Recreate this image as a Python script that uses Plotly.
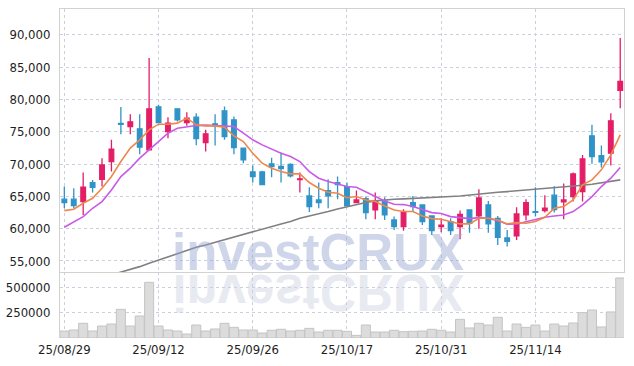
import base64
import plotly.graph_objects as go

dates = ["25/08/29", "25/09/01", "25/09/02", "25/09/03", "25/09/04", "25/09/05", "25/09/08", "25/09/09", "25/09/10", "25/09/11",
         "25/09/12", "25/09/15", "25/09/16", "25/09/17", "25/09/18", "25/09/19", "25/09/22", "25/09/23", "25/09/24", "25/09/25",
         "25/09/26", "25/09/29", "25/09/30", "25/10/01", "25/10/02", "25/10/10", "25/10/13", "25/10/14", "25/10/15", "25/10/16",
         "25/10/17", "25/10/20", "25/10/21", "25/10/22", "25/10/23", "25/10/24", "25/10/27", "25/10/28", "25/10/29", "25/10/30",
         "25/10/31", "25/11/03", "25/11/04", "25/11/05", "25/11/06", "25/11/07", "25/11/10", "25/11/11", "25/11/12", "25/11/13",
         "25/11/14", "25/11/17", "25/11/18", "25/11/19", "25/11/20", "25/11/21", "25/11/24", "25/11/25", "25/11/26", "25/11/27"]

open_ = [64550, 64550, 64190, 67130, 67640, 70380, 76300, 75800, 75440, 72190,
         78850, 75030, 78540, 76420, 77250, 73320, 76220, 78230, 76830, 72450,
         68780, 68780, 70020, 69610, 69920, 67600, 65060, 64440, 65890, 67130,
         66510, 64030, 64650, 62890, 64240, 61350, 60310, 64030, 63670, 61960,
         60310, 61090, 60310, 62890, 61960, 63670, 61600, 58560, 58870, 62120,
         62640, 62790, 65170, 64130, 64960, 65730, 74360, 71310, 71670, 81380]
high = [66500, 66250, 68680, 67540, 70900, 73740, 78800, 77710, 77710, 86390,
        79160, 77250, 78640, 78020, 77870, 75290, 77710, 78900, 77350, 72500,
        69760, 68940, 70950, 71780, 70120, 68680, 66410, 67130, 67640, 68060,
        67130, 65890, 64960, 65580, 64860, 61860, 63000, 65060, 63700, 62000,
        61600, 61600, 62790, 62900, 66100, 64290, 61960, 59800, 63310, 64550,
        66410, 65170, 66560, 66970, 68680, 71410, 76060, 72860, 77870, 89480]
low = [63150, 63150, 62120, 65580, 66510, 68830, 74610, 74610, 71520, 72100,
       76320, 74000, 76580, 75910, 72910, 71930, 72860, 73740, 71520, 70120,
       67130, 66770, 67950, 67130, 67900, 65580, 62590, 63150, 63150, 64550,
       63410, 63930, 61450, 61450, 61350, 59800, 59690, 62640, 60570, 59020,
       59430, 59020, 58350, 59380, 60000, 59380, 57470, 57220, 58250, 61240,
       61860, 62480, 62480, 61450, 64190, 64190, 70020, 69450, 69760, 78640]
close = [64030, 63570, 66400, 66400, 69860, 72290, 76150, 76520, 72600, 78540,
         76420, 76320, 76830, 77090, 73940, 74670, 75900, 74250, 72550, 70640,
         68060, 66820, 69610, 69300, 68160, 67700, 63410, 64030, 65060, 66820,
         63510, 64440, 62480, 64290, 62120, 60310, 62530, 63410, 61090, 59690,
         60520, 59690, 62220, 60830, 64750, 60730, 58660, 58040, 62280, 64030,
         62530, 63150, 62950, 64440, 68470, 70790, 71160, 70330, 76680, 82770]

ma_orange = [62790, 63000, 63930, 64700, 66250, 68060, 70380, 72450, 73740, 75290,
             76160, 76160, 76320, 77090, 76060, 75900, 75900, 75700, 74360, 73480,
             71670, 70120, 69350, 68830, 68470, 68470, 67130, 66250, 65630, 65480,
             64780, 64960, 64440, 64190, 63510, 62890, 62640, 62640, 61960, 61550,
             61450, 61090, 60730, 60730, 61600, 61600, 61350, 60730, 60930, 60830,
             61090, 61760, 63150, 63410, 64440, 66770, 67540, 69090, 71410, 74510]
ma_purple = [60210, 61090, 61860, 63150, 64190, 65990, 68060, 69350, 70900, 72190,
             73480, 74770, 75540, 75800, 75960, 76010, 75960, 75800, 75800, 74770,
             73740, 72960, 72290, 71670, 71160, 70380, 68830, 67800, 67280, 66920,
             66510, 66410, 65730, 64960, 64290, 63770, 63720, 63410, 63000, 62480,
             62330, 61860, 61710, 61550, 61710, 61600, 61240, 60670, 60730, 61090,
             61450, 61760, 61960, 62120, 62640, 63670, 64960, 66510, 67800, 69450]
ma_gray = [50500, 51000, 51500, 52000, 52450, 52850, 53240, 53650, 54120, 54630,
           55150, 55670, 56180, 56600, 57110, 57470, 57890, 58250, 58660, 59130,
           59540, 59950, 60310, 60730, 61090, 61600, 61960, 62280, 62640, 63050,
           63410, 63670, 64030, 64290, 64440, 64550, 64600, 64650, 64700, 64750,
           64800, 64960, 65060, 65220, 65370, 65530, 65630, 65730, 65840, 65940,
           66100, 66200, 66300, 66410, 66510, 66720, 66870, 67080, 67280, 67540]

volume = [69000, 79000, 145000, 69000, 118000, 138000, 283000, 118000, 217000, 549000,
          118000, 79000, 69000, 39000, 128000, 69000, 89000, 145000, 105000, 79000,
          79000, 49000, 76000, 86000, 69000, 76000, 95000, 59000, 76000, 76000,
          66000, 26000, 128000, 59000, 59000, 76000, 62000, 66000, 69000, 86000,
          76000, 59000, 184000, 99000, 145000, 128000, 204000, 69000, 138000, 105000,
          128000, 69000, 138000, 118000, 148000, 250000, 276000, 109000, 257000, 592000]

tick_dates = ["25/08/29", "25/09/12", "25/09/26", "25/10/17", "25/10/31", "25/11/14"]
price_ticks = [55000, 60000, 65000, 70000, 75000, 80000, 85000, 90000]
price_tick_text = ["55,000", "60,000", "65,000", "70,000", "75,000", "80,000", "85,000", "90,000"]
vol_ticks = [250000, 500000]
vol_tick_text = ["250000", "500000"]
watermark = "investCRUX"

RED = "#e41e66"
BLUE = "#2f93c8"
GRID = "#cbcfe0"
BORDER = "#d2d2d2"
TICKFONT = dict(family="DejaVu Sans Condensed, Roboto Condensed, Roboto, sans-serif", size=13, color="#1e1e1e")

fig = go.Figure()
fig.add_trace(go.Candlestick(
    x=dates, open=open_, high=high, low=low, close=close,
    increasing=dict(fillcolor=RED, line=dict(color=RED, width=1.3)),
    decreasing=dict(fillcolor=BLUE, line=dict(color=BLUE, width=1.3)),
    whiskerwidth=0, xaxis="x", yaxis="y", showlegend=False, hoverinfo="skip"))
fig.add_trace(go.Scatter(x=dates, y=ma_gray, mode="lines", line=dict(color="#808080", width=1.6),
                         xaxis="x", yaxis="y", showlegend=False, hoverinfo="skip"))
fig.add_trace(go.Scatter(x=dates, y=ma_purple, mode="lines", line=dict(color="#c95ae8", width=1.6),
                         xaxis="x", yaxis="y", showlegend=False, hoverinfo="skip"))
fig.add_trace(go.Scatter(x=dates, y=ma_orange, mode="lines", line=dict(color="#ee874c", width=1.6),
                         xaxis="x", yaxis="y", showlegend=False, hoverinfo="skip"))
fig.add_trace(go.Bar(x=dates, y=volume, marker=dict(color="#dcdcdc", line=dict(color="#c4c4c4", width=1)),
                     xaxis="x2", yaxis="y2", showlegend=False, hoverinfo="skip"))

split = 0.2006
xr = [-0.46, 59.4]
fig.update_layout(
    width=634, height=366,
    margin=dict(l=60, r=10, t=9, b=28, autoexpand=False),
    paper_bgcolor="white", plot_bgcolor="white",
    boxgap=0.3, bargap=0.04,
    xaxis=dict(type="category", domain=[0, 1], anchor="y", range=xr, autorange=False, automargin=False,
               rangeslider=dict(visible=False), showticklabels=False,
               tickmode="array", tickvals=tick_dates, ticks="",
               showgrid=True, gridcolor=GRID, griddash="dot", gridwidth=1,
               showline=True, linecolor=BORDER, linewidth=1, mirror=True, zeroline=False),
    yaxis=dict(domain=[split, 1], anchor="x", range=[53290, 93980], autorange=False, automargin=False,
               tickmode="array", tickvals=price_ticks, ticktext=price_tick_text,
               tickfont=TICKFONT, ticks="", ticklabelstandoff=6,
               showgrid=True, gridcolor=GRID, griddash="dot", gridwidth=1,
               showline=True, linecolor=BORDER, linewidth=1, mirror=True, zeroline=False),
    xaxis2=dict(type="category", domain=[0, 1], anchor="y2", matches="x", range=xr, autorange=False,
                automargin=False,
                tickmode="array", tickvals=tick_dates, ticktext=tick_dates,
                tickfont=TICKFONT, ticks="", ticklabelstandoff=2,
                showgrid=True, gridcolor=GRID, griddash="dot", gridwidth=1,
                showline=False, zeroline=False),
    yaxis2=dict(domain=[0, split], anchor="x2", range=[0, 651000], autorange=False, automargin=False,
                tickmode="array", tickvals=vol_ticks, ticktext=vol_tick_text,
                tickfont=TICKFONT, ticks="", ticklabelstandoff=6,
                showgrid=True, gridcolor=GRID, griddash="dot", gridwidth=1,
                showline=True, linecolor=BORDER, linewidth=1, zeroline=False),
)

# reflection of the watermark (decorative mirror effect)
W, H = 564.5, 329.0
svg = (f'<svg xmlns="http://www.w3.org/2000/svg" width="{W}" height="{H}" viewBox="0 0 {W} {H}">'
       f'<g transform="translate(0,{2 * 264.5}) scale(1,-1)">'
       f'<text x="258.5" y="263" text-anchor="middle" font-family="Liberation Sans, Arial, sans-serif" '
       f'font-weight="bold" font-size="51" fill="#e8eaf1">{watermark}</text></g></svg>')
src = "data:image/svg+xml;base64," + base64.b64encode(svg.encode()).decode()
fig.add_layout_image(dict(source=src, xref="paper", yref="paper", x=0, y=1, sizex=1, sizey=1,
                          xanchor="left", yanchor="top", sizing="stretch", layer="below"))

fig.add_annotation(text=watermark, xref="paper", yref="paper", x=0.458, y=(338 - 252.5) / 329,
                   xanchor="center", yanchor="middle", showarrow=False,
                   font=dict(family="Liberation Sans, Arial, sans-serif", size=51, weight="bold",
                             color="rgba(150,163,208,0.45)"))

fig.write_html("out.html", config={"displayModeBar": False},
               post_script="document.body.style.margin='0';")
